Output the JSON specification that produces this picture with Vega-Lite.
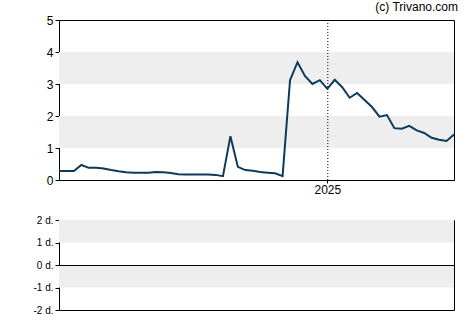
{
  "$schema": "https://vega.github.io/schema/vega-lite/v6.json",
  "autosize": "pad",
  "padding": {"left": 32, "top": 0, "right": 15, "bottom": 5},
  "spacing": 40,
  "bounds": "flush",
  "config": {
    "view": {"stroke": "#000000", "strokeWidth": 1},
    "font": "Liberation Sans",
    "axis": {"domainColor": "#000000", "tickColor": "#000000", "labelColor": "#000000", "grid": false, "title": null, "tickSize": 4, "labelPadding": 2, "labelOverlap": false}
  },
  "datasets": {
    "price": [
      {"date": "2024-04-24", "v": 0.28},
      {"date": "2024-05-01", "v": 0.28},
      {"date": "2024-05-08", "v": 0.28},
      {"date": "2024-05-15", "v": 0.47},
      {"date": "2024-05-22", "v": 0.38},
      {"date": "2024-05-29", "v": 0.38},
      {"date": "2024-06-05", "v": 0.36},
      {"date": "2024-06-12", "v": 0.31},
      {"date": "2024-06-19", "v": 0.27},
      {"date": "2024-06-26", "v": 0.24},
      {"date": "2024-07-03", "v": 0.23},
      {"date": "2024-07-10", "v": 0.23},
      {"date": "2024-07-17", "v": 0.23},
      {"date": "2024-07-24", "v": 0.25},
      {"date": "2024-07-31", "v": 0.24},
      {"date": "2024-08-07", "v": 0.22},
      {"date": "2024-08-14", "v": 0.18},
      {"date": "2024-08-21", "v": 0.17},
      {"date": "2024-08-28", "v": 0.17},
      {"date": "2024-09-04", "v": 0.17},
      {"date": "2024-09-11", "v": 0.17},
      {"date": "2024-09-18", "v": 0.16},
      {"date": "2024-09-25", "v": 0.12},
      {"date": "2024-10-02", "v": 1.37},
      {"date": "2024-10-09", "v": 0.41},
      {"date": "2024-10-16", "v": 0.31},
      {"date": "2024-10-23", "v": 0.29},
      {"date": "2024-10-30", "v": 0.25},
      {"date": "2024-11-06", "v": 0.23},
      {"date": "2024-11-13", "v": 0.21},
      {"date": "2024-11-20", "v": 0.12},
      {"date": "2024-11-27", "v": 3.12},
      {"date": "2024-12-04", "v": 3.68},
      {"date": "2024-12-11", "v": 3.25},
      {"date": "2024-12-18", "v": 3.0},
      {"date": "2024-12-25", "v": 3.12},
      {"date": "2025-01-01", "v": 2.85},
      {"date": "2025-01-08", "v": 3.13},
      {"date": "2025-01-15", "v": 2.9},
      {"date": "2025-01-22", "v": 2.57},
      {"date": "2025-01-29", "v": 2.72},
      {"date": "2025-02-05", "v": 2.5},
      {"date": "2025-02-12", "v": 2.28},
      {"date": "2025-02-19", "v": 1.98},
      {"date": "2025-02-26", "v": 2.03},
      {"date": "2025-03-05", "v": 1.62},
      {"date": "2025-03-12", "v": 1.6},
      {"date": "2025-03-19", "v": 1.69},
      {"date": "2025-03-26", "v": 1.55},
      {"date": "2025-04-02", "v": 1.47},
      {"date": "2025-04-09", "v": 1.32},
      {"date": "2025-04-16", "v": 1.26},
      {"date": "2025-04-23", "v": 1.22},
      {"date": "2025-04-30", "v": 1.42}
    ]
  },
  "vconcat": [
    {
      "width": 395,
      "height": 160,
      "title": {"text": "(c) Trivano.com", "anchor": "end", "fontSize": 12, "fontWeight": "normal", "font": "Liberation Sans", "color": "#000000", "offset": 0},
      "layer": [
        {
          "data": {"values": [{"a": 1, "b": 2}, {"a": 3, "b": 4}]},
          "mark": {"type": "rect", "color": "#eeeeee"},
          "encoding": {
            "y": {"field": "a", "type": "quantitative", "scale": {"domain": [0, 5]}, "axis": {"values": [0, 1, 2, 3, 4, 5], "labelFontSize": 12, "tickSize": 4}},
            "y2": {"field": "b"}
          }
        },
        {
          "data": {"values": [{"d": "2025-01-01"}]},
          "mark": {"type": "rule", "color": "#000000", "strokeDash": [1, 2], "strokeWidth": 1, "xOffset": 0.5},
          "encoding": {
            "x": {"field": "d", "type": "temporal", "axis": {"values": ["2025-01-01"], "format": "%Y", "labelFontSize": 12, "tickSize": 3, "labelPadding": 1}}
          }
        },
        {
          "data": {"name": "price"},
          "mark": {"type": "line", "color": "#0e3a5a", "strokeWidth": 2},
          "encoding": {
            "x": {"field": "date", "type": "temporal", "scale": {"domain": ["2024-04-24", "2025-04-30"]}, "axis": {"values": ["2025-01-01"], "format": "%Y", "labelFontSize": 12, "tickSize": 3, "labelPadding": 1}},
            "y": {"field": "v", "type": "quantitative", "axis": {"values": [0, 1, 2, 3, 4, 5], "labelFontSize": 12, "tickSize": 4}}
          }
        }
      ]
    },
    {
      "width": 395,
      "height": 90,
      "layer": [
        {
          "data": {"values": [{"a": 1, "b": 2}, {"a": -1, "b": 0}]},
          "mark": {"type": "rect", "color": "#eeeeee"},
          "encoding": {
            "y": {"field": "a", "type": "quantitative", "scale": {"domain": [-2, 2]}, "axis": {"values": [-2, -1, 0, 1, 2], "labelExpr": "datum.value + ' d.'", "labelFontSize": 10, "tickSize": 4}},
            "y2": {"field": "b"}
          }
        },
        {
          "data": {"values": [{"z": 0}]},
          "mark": {"type": "rule", "color": "#000000", "strokeWidth": 1, "yOffset": 0.5},
          "encoding": {
            "y": {"field": "z", "type": "quantitative", "axis": {"values": [-2, -1, 0, 1, 2], "labelExpr": "datum.value + ' d.'", "labelFontSize": 10, "tickSize": 4}}
          }
        }
      ]
    }
  ]
}
